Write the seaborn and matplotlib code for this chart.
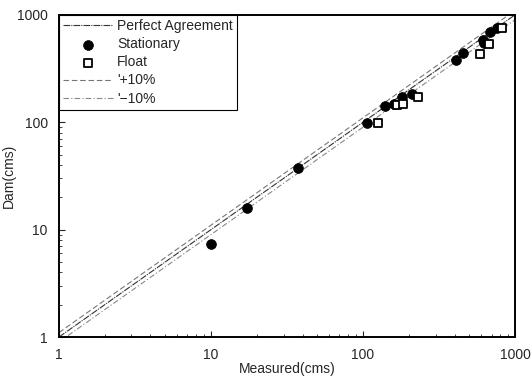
import matplotlib
matplotlib.use("Agg")
import matplotlib.pyplot as plt
import seaborn as sns
import pandas as pd
import numpy as np
from matplotlib.ticker import LogLocator, NullFormatter, FixedLocator, FixedFormatter

# Stationary gauging: measured vs. dam-computed discharge (cms)
stationary_measured = [10, 17.3, 37.5, 106, 140, 161, 181, 211, 411, 457, 619, 625, 685, 765]
stationary_dam = [7.4, 15.9, 37.6, 97.5, 143, 147, 173, 185, 383, 439, 584, 550, 694, 751]

# Float gauging
float_measured = [126, 167, 184, 231, 589, 678, 817]
float_dam = [99, 143.5, 146.5, 172, 434, 534, 753]

# Reference lines span the full axis range
ref_x = [1, 1000]
ref_factors = {"Perfect Agreement": 1.0, "'+10%": 1.1, "'\u221210%": 0.9}

tick_values = [1, 10, 100, 1000]
tick_labels = ["1", "10", "100", "1000"]

sns.set_style("ticks")
plt.rcParams["font.family"] = ["Liberation Sans", "DejaVu Sans"]
plt.rcParams["font.size"] = 10

fig = plt.figure(figsize=(5.31, 3.80), dpi=100)
ax = fig.add_axes([0.111, 0.113, 0.859, 0.848])

stat_df = pd.DataFrame({"Measured": stationary_measured, "Dam": stationary_dam})
float_df = pd.DataFrame({"Measured": float_measured, "Dam": float_dam})

def ref_frame(factor):
    return pd.DataFrame({"x": ref_x, "y": [v * factor for v in ref_x]})

sns.lineplot(data=ref_frame(ref_factors["Perfect Agreement"]), x="x", y="y", ax=ax,
             color="#333333", linewidth=0.8, linestyle=(0, (6, 1, 1, 1)),
             label="Perfect Agreement")
sns.scatterplot(data=stat_df, x="Measured", y="Dam", ax=ax, marker="o", s=50,
                color="black", edgecolor="black", linewidth=0.5, label="Stationary", zorder=4)
sns.scatterplot(data=float_df, x="Measured", y="Dam", ax=ax, marker="s", s=38,
                facecolor="white", edgecolor="black", linewidth=1.3, label="Float", zorder=4)
sns.lineplot(data=ref_frame(ref_factors["'+10%"]), x="x", y="y", ax=ax,
             color="#777777", linewidth=0.8, linestyle=(0, (5, 2.5)), label="'+10%")
sns.lineplot(data=ref_frame(ref_factors["'\u221210%"]), x="x", y="y", ax=ax,
             color="#888888", linewidth=0.8, linestyle=(0, (5, 2, 1, 2)), label="'\u221210%")

ax.set_xscale("log")
ax.set_yscale("log")
ax.set_xlim(1, 1000)
ax.set_ylim(1, 1000)

for axis in (ax.xaxis, ax.yaxis):
    axis.set_major_locator(FixedLocator(tick_values))
    axis.set_major_formatter(FixedFormatter(tick_labels))
    axis.set_minor_locator(LogLocator(base=10, subs=np.arange(2, 10)))
    axis.set_minor_formatter(NullFormatter())

ax.tick_params(which="major", direction="in", length=4, width=0.8, labelsize=10, pad=8)
ax.tick_params(which="minor", direction="in", length=2.5, width=0.6)

for spine in ax.spines.values():
    spine.set_visible(True)
    spine.set_linewidth(1.4)
    spine.set_color("black")

ax.set_xlabel("Measured(cms)", fontsize=10, labelpad=0)
ax.set_ylabel("Dam(cms)", fontsize=10, labelpad=1)

leg = ax.legend(loc="upper left", borderaxespad=0, frameon=True, fancybox=False,
                fontsize=10, handlelength=3.6, handletextpad=0.3, labelspacing=0.3,
                borderpad=0.3)
leg.get_frame().set_edgecolor("black")
leg.get_frame().set_linewidth(0.8)
leg.get_frame().set_alpha(1)

fig.savefig("out.png", dpi=100)
